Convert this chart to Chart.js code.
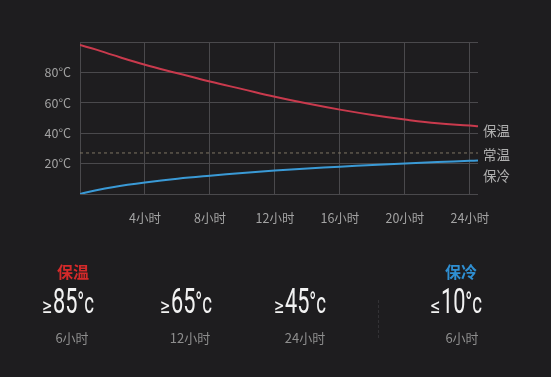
<!DOCTYPE html>
<html>
<head>
<meta charset="utf-8">
<script src="https://cdn.jsdelivr.net/npm/chart.js@4"></script>
<style>
  html, body { margin: 0; padding: 0; background: #1e1d1f; }
  #wrap { position: relative; width: 551px; height: 377px; overflow: hidden; font-family: "Noto Sans CJK SC", sans-serif; }
  #chart { position: absolute; left: 0; top: 0; }
  .side { position: absolute; left: 483px; color: #b0b0b0; font-size: 13.5px; line-height: 1; }
  .head { position: absolute; font-size: 16px; font-weight: bold; line-height: 1; transform: translateX(-50%); white-space: nowrap; }
  .big { position: absolute; top: 284px; font-family: Roboto, sans-serif; font-size: 35px; color: #f2f2f2; line-height: 1; white-space: nowrap; transform: translateX(-50%) scaleX(0.62); }
  .big .op { font-family: "DejaVu Sans", sans-serif; font-size: 20px; margin-right: 1px; }
  .big .deg { font-size: 30px; }
  .sub { position: absolute; top: 331px; color: #8e8e8e; font-size: 13px; line-height: 1; white-space: nowrap; transform: translateX(-50%); }
  .sep { position: absolute; left: 378px; top: 300px; height: 38px; border-left: 1px dashed #333235; }
</style>
</head>
<body>
<div id="wrap">
  <canvas id="chart" width="551" height="377"></canvas>
  <div class="side" style="top:124px">保温</div>
  <div class="side" style="top:148px">常温</div>
  <div class="side" style="top:169px">保冷</div>
  <div class="head" style="left:73px; top:263px; color:#d42a2a">保温</div>
  <div class="head" style="left:461px; top:263px; color:#2f8fd2">保冷</div>
  <div id="stats"></div>
  <div class="sep"></div>
</div>
<script>
// curve readings (hours / °C)
const hours = [0, 1, 2, 4, 6, 8, 10, 12, 14, 16, 18, 20, 22, 24, 24.5];
const warmTemps = [98, 95, 91.5, 85, 79.5, 74, 69, 64, 59.5, 55.5, 52, 49, 46.5, 45, 44.5];
const coldTemps = [0, 2.5, 4.5, 7.5, 10, 12, 13.8, 15.4, 16.8, 18, 19.1, 20, 21, 21.8, 22];
const roomHours = [0, 24.5];
const roomTemps = [27, 27];
const hourTicks = [0, 4, 8, 12, 16, 20, 24];

// summary figures under the chart
const statOps = ['≥', '≥', '≥', '≤'];
const statTemps = [85, 65, 45, 10];
const statHours = ['6小时', '12小时', '24小时', '6小时'];
const statCenters = [68, 186, 300, 456];
const subCenters = [72, 190, 305, 462];

const gridColor = '#4a494c';
const labelColor = '#a3a3a3';

const stats = document.getElementById('stats');
statTemps.forEach((t, i) => {
  const big = document.createElement('div');
  big.className = 'big';
  big.style.left = statCenters[i] + 'px';
  big.innerHTML = '<span class="op">' + statOps[i] + '</span>' + t + '<span class="deg">°c</span>';
  stats.appendChild(big);
  const sub = document.createElement('div');
  sub.className = 'sub';
  sub.style.left = subCenters[i] + 'px';
  sub.textContent = statHours[i];
  stats.appendChild(sub);
});

function toPoints(xs, ys) {
  return xs.map((x, i) => ({ x: x, y: ys[i] }));
}

const ctx = document.getElementById('chart').getContext('2d');
new Chart(ctx, {
  type: 'line',
  data: {
    datasets: [
      {
        label: '保温',
        data: toPoints(hours, warmTemps),
        borderColor: '#c93a4d',
        borderWidth: 2,
        pointRadius: 0,
        tension: 0.4
      },
      {
        label: '常温',
        data: toPoints(roomHours, roomTemps),
        borderColor: '#7e7563',
        borderWidth: 1,
        borderDash: [3, 3],
        pointRadius: 0
      },
      {
        label: '保冷',
        data: toPoints(hours, coldTemps),
        borderColor: '#3a9ad6',
        borderWidth: 2,
        pointRadius: 0,
        tension: 0.4
      }
    ]
  },
  options: {
    responsive: false,
    animation: false,
    layout: {
      padding: { left: 0, top: 42, right: 73, bottom: 0 }
    },
    plugins: {
      legend: { display: false },
      tooltip: { enabled: false }
    },
    scales: {
      x: {
        type: 'linear',
        min: 0,
        max: 24.5,
        border: { display: false },
        grid: { drawTicks: false, color: gridColor },
        afterBuildTicks: scale => { scale.ticks = hourTicks.map(v => ({ value: v })); },
        ticks: {
          padding: 17,
          color: labelColor,
          font: { family: '"Noto Sans CJK SC"', size: 12.5 },
          maxRotation: 0,
          callback: v => (v > 0 ? v + '小时' : '')
        },
        afterFit: scale => { scale.height = 183; }
      },
      y: {
        min: 0,
        max: 100,
        border: { display: false },
        grid: { drawTicks: false, color: gridColor },
        ticks: {
          stepSize: 20,
          padding: 9,
          color: labelColor,
          font: { family: '"Noto Sans CJK SC"', size: 12.5 },
          callback: v => (v > 0 && v < 100 ? v + '°C' : '')
        },
        afterFit: scale => { scale.width = 80; }
      }
    }
  }
});
</script>
</body>
</html>
